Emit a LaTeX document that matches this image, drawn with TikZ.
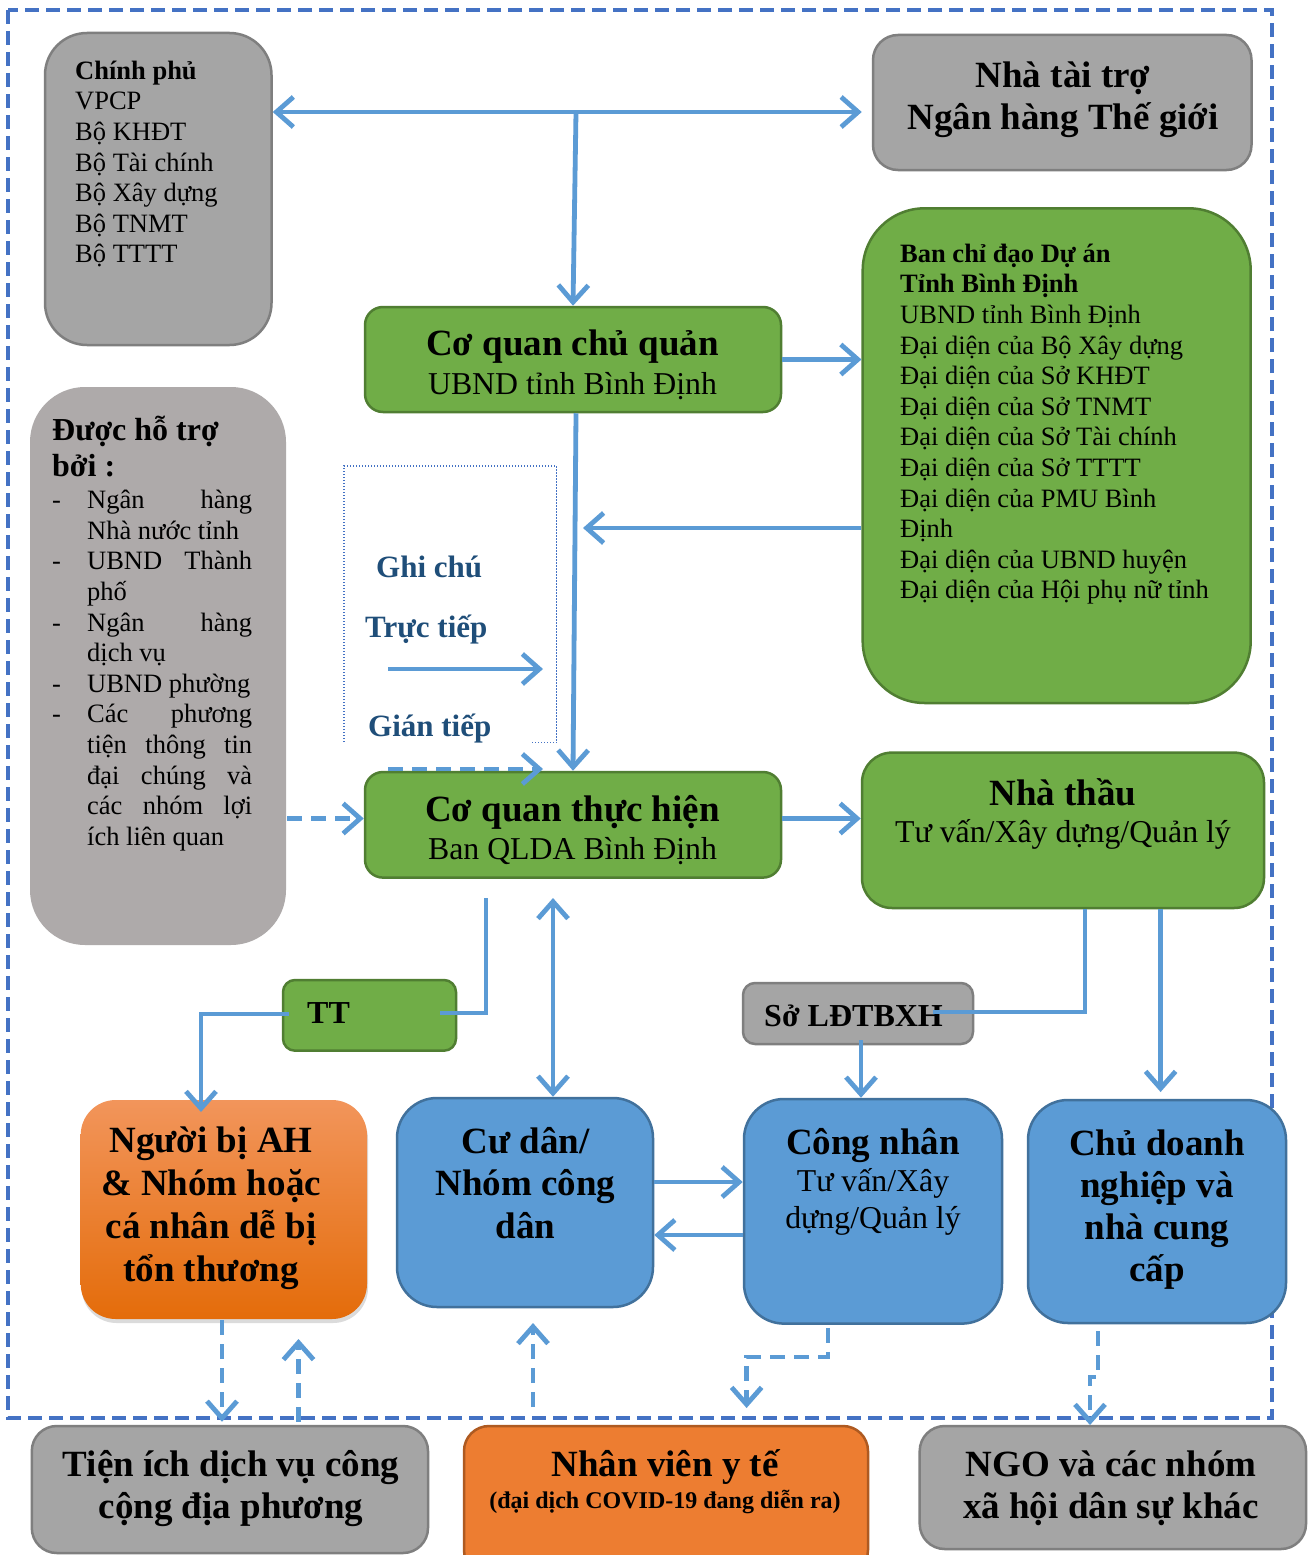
\documentclass[tikz,border=0pt]{standalone}
\usepackage{fontspec}
\setmainfont{Liberation Serif}
\usetikzlibrary{arrows.meta,fit,shadows}
\definecolor{cblue}{HTML}{5B9BD5}
\definecolor{oblue}{HTML}{4472C4}
\definecolor{ggray}{HTML}{A5A5A5}
\definecolor{ggrayd}{HTML}{7F7F7F}
\definecolor{pgray}{HTML}{AEAAAA}
\definecolor{ggreen}{HTML}{70AD47}
\definecolor{ggreend}{HTML}{507E32}
\definecolor{bblue}{HTML}{5B9BD5}
\definecolor{bblued}{HTML}{41719C}
\definecolor{oorange}{HTML}{ED7D31}
\definecolor{oorangd}{HTML}{AE5A21}
\definecolor{otop}{HTML}{F2955B}
\definecolor{obot}{HTML}{E46C0A}
\definecolor{navy}{HTML}{1F4E79}
\tikzset{
  bx/.style={inner sep=0pt, line width=2.5pt},
  graybox/.style={bx, fill=ggray, draw=ggrayd},
  pinkbox/.style={bx, fill=pgray, draw=none},
  greenbox/.style={bx, fill=ggreen, draw=ggreend},
  bluebox/.style={bx, fill=bblue, draw=bblued},
  orangebox/.style={bx, fill=oorange, draw=oorangd},
  conn/.style={draw=cblue, line width=4.8pt, -{Straight Barb[length=17pt,width=30pt]}},
  connb/.style={draw=cblue, line width=4.8pt, {Straight Barb[length=17pt,width=30pt]}-{Straight Barb[length=17pt,width=30pt]}},
  plainline/.style={draw=cblue, line width=4.8pt},
  dconn/.style={conn, dash pattern=on 15pt off 9pt},
  outer/.style={draw=oblue, line width=4pt, dash pattern=on 14pt off 7pt},
  legendbox/.style={draw=oblue, line width=1.3pt, dash pattern=on 1.3pt off 1.7pt},
  body/.style={inner sep=0pt, align=left, font=\fontsize{26.5}{30.6}\selectfont},
  head/.style={inner sep=0pt, font=\fontsize{37}{42}\selectfont\bfseries},
  sub/.style={inner sep=0pt, font=\fontsize{31.8}{36.5}\selectfont},
  lgd/.style={inner sep=0pt, text=navy, font=\fontsize{31}{36}\selectfont\bfseries},
}
\begin{document}
\begin{tikzpicture}[x=1pt,y=-1pt]
\useasboundingbox (0,0) rectangle (1311,1555);
\fill[white] (0,0) rectangle (1311,1555);
% outer dashed frame
\draw[outer] (8,10) rectangle (1272,1418);

% boxes
\node[graybox, rounded corners=42pt, fit={(45,33) (271.5,345)}] (cp) {};
\node[graybox, rounded corners=25pt, fit={(873,35) (1251.5,170)}] (nt) {};
\node[greenbox, rounded corners=18pt, fit={(365,307) (781,412)}] (cqcq) {};
\node[greenbox, rounded corners=62pt, fit={(862.7,208.3) (1250.7,703)}] (bcd) {};
\node[pinkbox, rounded corners=55pt, fit={(30,387) (286,945)}] (dht) {};
\node[greenbox, rounded corners=18pt, fit={(365,772) (781,877.6)}] (cqth) {};
\node[greenbox, rounded corners=30pt, fit={(862,752.6) (1264,908)}] (nth) {};
\node[greenbox, rounded corners=12pt, fit={(283,980) (456,1050.7)}] (tt) {};
\node[graybox, rounded corners=12pt, fit={(743,983) (973,1044)}] (so) {};
\node[bx, draw=none, top color=otop, bottom color=obot, rounded corners=35pt,
      drop shadow={shadow xshift=1pt, shadow yshift=-4pt, fill=black!28},
      fit={(80.7,1100) (367,1319)}] (nb) {};
\node[bluebox, rounded corners=40pt, fit={(397,1098) (653,1307)}] (cd) {};
\node[bluebox, rounded corners=40pt, fit={(744,1099) (1002,1323.6)}] (cn) {};
\node[bluebox, rounded corners=40pt, fit={(1028,1100) (1286,1323)}] (cdn) {};
\node[graybox, rounded corners=25pt, fit={(31.8,1426) (428,1553)}] (ti) {};
\node[orangebox, rounded corners=25pt, fit={(464,1426) (868,1575)}] (nv) {};
\node[graybox, rounded corners=25pt, fit={(919.7,1426) (1306,1549)}] (ngo) {};

% legend frame
\draw[legendbox] (344,742) -- (344,466) -- (556.7,466) -- (556.7,742.4) -- (532,742.4);

% texts
\node[body, anchor=north west] (cpT) at (75,49) {\rule{0pt}{30pt}\textbf{Chính phủ}\\VPCP\\Bộ KHĐT\\Bộ Tài chính\\Bộ Xây dựng\\Bộ TNMT\\Bộ TTTT};
\node[head, anchor=north, align=center] (ntT) at (1063,47.3) {\rule{0pt}{40pt}Nhà tài trợ\\Ngân hàng Thế giới};
\node[head, anchor=base] (cqcqT) at (572.5,355) {Cơ quan chủ quản};
\node[sub, anchor=base] (cqcqS) at (572.5,394.6) {UBND tỉnh Bình Định};
\node[body, anchor=north west] (bcdT) at (900,232) {\rule{0pt}{30pt}\textbf{Ban chỉ đạo Dự án}\\\textbf{Tỉnh Bình Định}\\UBND tỉnh Bình Định\\Đại diện của Bộ Xây dựng\\Đại diện của Sở KHĐT\\Đại diện của Sở TNMT\\Đại diện của Sở Tài chính\\Đại diện của Sở TTTT\\Đại diện của PMU Bình\\Định\\Đại diện của UBND huyện\\Đại diện của Hội phụ nữ tỉnh};
\node[inner sep=0pt, anchor=north west, align=left, font=\fontsize{32}{36.7}\selectfont\bfseries] (dhtT) at (52,404) {\rule{0pt}{36pt}Được hỗ trợ\\bởi :};
\node[body, anchor=north west] (dhtL) at (52,478.5) {\rule{0pt}{30pt}\makebox[35pt][l]{-}\makebox[165pt][s]{Ngân hàng}\\
\hspace*{35pt}Nhà nước tỉnh\\
\makebox[35pt][l]{-}\makebox[165pt][s]{UBND Thành}\\
\hspace*{35pt}phố\\
\makebox[35pt][l]{-}\makebox[165pt][s]{Ngân hàng}\\
\hspace*{35pt}dịch vụ\\
\makebox[35pt][l]{-}UBND phường\\
\makebox[35pt][l]{-}\makebox[165pt][s]{Các phương}\\
\hspace*{35pt}\makebox[165pt][s]{tiện thông tin}\\
\hspace*{35pt}\makebox[165pt][s]{đại chúng và}\\
\hspace*{35pt}\makebox[165pt][s]{các nhóm lợi}\\
\hspace*{35pt}ích liên quan};
\node[lgd, anchor=base west] (lgA) at (376,577) {Ghi chú};
\node[lgd, anchor=base west] (lgB) at (365,637.7) {Trực tiếp};
\node[lgd, anchor=base west] (lgC) at (368,736.5) {Gián tiếp};
\node[head, anchor=base] (cqthT) at (572.5,821.5) {Cơ quan thực hiện};
\node[sub, anchor=base] (cqthS) at (572.5,859) {Ban QLDA Bình Định};
\node[head, anchor=base] (nthT) at (1063,805) {Nhà thầu};
\node[sub, anchor=base] (nthS) at (1063,842.6) {Tư vấn/Xây dựng/Quản lý};
\node[inner sep=0pt, anchor=base west, font=\fontsize{32}{36}\selectfont\bfseries] (ttT) at (307,1023) {TT};
\node[inner sep=0pt, anchor=base west, font=\fontsize{32}{36}\selectfont\bfseries] (soT) at (764,1026) {Sở LĐTBXH};
\node[inner sep=0pt, anchor=north, align=center, font=\fontsize{37}{43}\selectfont\bfseries] (nbT) at (211,1112.7) {\rule{0pt}{40pt}Người bị AH\\\& Nhóm hoặc\\cá nhân dễ bị\\tổn thương};
\node[inner sep=0pt, anchor=north, align=center, font=\fontsize{37}{42.5}\selectfont\bfseries] (cdT) at (525.5,1113) {\rule{0pt}{40pt}Cư dân/\\Nhóm công\\dân};
\node[head, anchor=base] (cnT) at (873,1154) {Công nhân};
\node[sub, anchor=north, align=center] (cnS) at (873,1156.7) {\rule{0pt}{35pt}Tư vấn/Xây\\dựng/Quản lý};
\node[inner sep=0pt, anchor=north, align=center, font=\fontsize{37}{42.2}\selectfont\bfseries] (cdnT) at (1157,1115) {\rule{0pt}{40pt}Chủ doanh\\nghiệp và\\nhà cung\\cấp};
\node[inner sep=0pt, anchor=north, align=center, font=\fontsize{37}{41.6}\selectfont\bfseries] (tiT) at (231,1436.7) {\rule{0pt}{40pt}Tiện ích dịch vụ công\\cộng địa phương};
\node[head, anchor=base] (nvT) at (665,1476) {Nhân viên y tế};
\node[inner sep=0pt, anchor=base, font=\fontsize{24}{28}\selectfont\bfseries] (nvS) at (665,1508) {(đại dịch COVID-19 đang diễn ra)};
\node[inner sep=0pt, anchor=north, align=center, font=\fontsize{37}{41.6}\selectfont\bfseries] (ngoT) at (1111,1436.7) {\rule{0pt}{40pt}NGO và các nhóm\\xã hội dân sự khác};

% connectors
\coordinate (j1) at (576,112);
\draw[connb] (cp.east |- j1) -- ([xshift=-10pt]nt.west |- j1);
\draw[conn] (j1) -- (cqcq.north);
\draw[conn] (cqcq.east) -- (bcd.west |- cqcq.east);
\draw[conn] ([xshift=3pt]cqcq.south) -- (cqth.north);
\coordinate (m1) at (583,528);
\draw[conn] (bcd.west |- m1) -- (m1);
\coordinate (m2) at (0,818.5);
\draw[dconn] (dht.east |- m2) -- (cqth.west |- m2);
\draw[conn] (cqth.east |- m2) -- (nth.west |- m2);
\coordinate (t1) at (486,898);
\coordinate (t2) at (440,1013);
\draw[plainline] (t1) |- (t2);
\coordinate (t3) at (289,1014);
\coordinate (t4) at (201,1112);
\draw[conn] (t3) -| (t4);
\coordinate (t5) at (553,898);
\draw[connb] (t5) -- (t5 |- cd.north);
\coordinate (t6) at (1085,0);
\coordinate (t7) at (933,1012);
\draw[plainline] (t6 |- nth.south) |- (t7);
\coordinate (t8) at (861,1040);
\draw[conn] (t8) -- (t8 |- cn.north);
\coordinate (t9) at (1160.6,1092);
\draw[conn] (t9 |- nth.south) -- (t9);
\coordinate (t10) at (0,1182);
\draw[conn] (cd.east |- t10) -- (cn.west |- t10);
\coordinate (t11) at (0,1235);
\draw[conn] (cn.west |- t11) -- (cd.east |- t11);
% dashed
\coordinate (d1) at (222,0);
\draw[dconn] (d1 |- nb.south) -- ([yshift=3pt]d1 |- ti.north);
\coordinate (d2) at (298.5,1339);
\draw[dconn] ([yshift=3pt]d2 |- ti.north) -- (d2);
\coordinate (d3) at (533,1407);
\coordinate (d4) at (533,1323);
\draw[dconn] (d3) -- (d4);
\coordinate (k1) at (828,1357);
\coordinate (k1b) at (746.6,1408);
\draw[dconn] ([yshift=-3pt]k1 |- cn.south) -- (k1) -| (k1b);
\coordinate (k2) at (1098,1377);
\coordinate (k3) at (1090,1425);
\draw[dconn] ([yshift=-7pt]k2 |- cdn.south) -- (k2) -| (k3);
% legend arrows
\coordinate (l1) at (388,669);
\coordinate (l2) at (543,669);
\draw[conn] (l1) -- (l2);
\coordinate (l3) at (388,769);
\coordinate (l4) at (543,769);
\draw[dconn] (l3) -- (l4);
\end{tikzpicture}
\end{document}
